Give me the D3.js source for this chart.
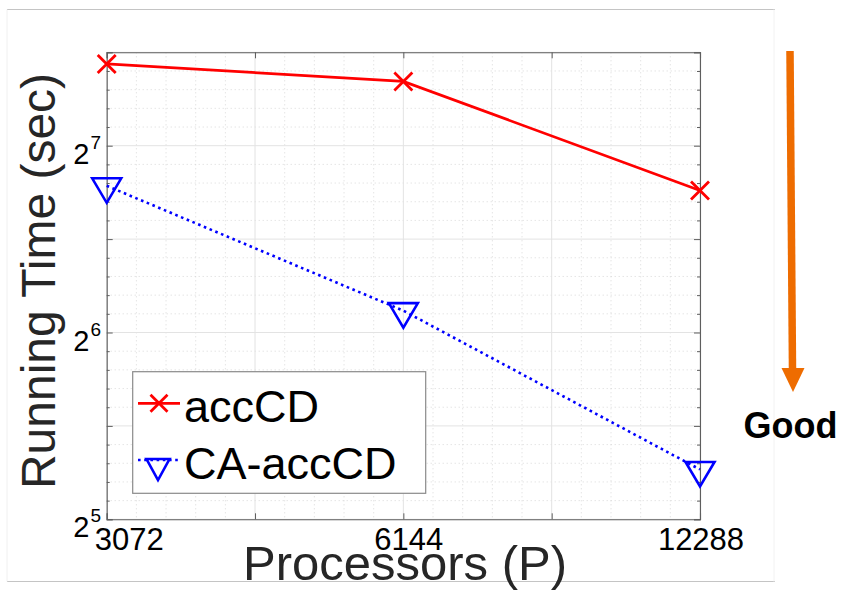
<!DOCTYPE html>
<html>
<head>
<meta charset="utf-8">
<script src="https://cdn.jsdelivr.net/npm/d3@7"></script>
<style>
  html, body { margin: 0; padding: 0; background: #fff; }
  svg { display: block; }
  text { font-family: "Liberation Sans", Arial, Helvetica, sans-serif; }
</style>
</head>
<body>
<svg id="chart" width="842" height="590"></svg>
<script>
// Running time versus processor count (log2 axes)
const processors = [3072, 6144, 12288];
const accCD = [173.4, 162.5, 108.4];
const caAccCD = [110.3, 69.4, 38.5];
const seriesNames = ["accCD", "CA-accCD"];
const xTickLabels = ["3072", "6144", "12288"];
const yTickExponents = [5, 6, 7];
const yGridExponents = [5, 5.5, 6, 6.5, 7, 7.5];
const xGridSteps = [0, 0.5, 1, 1.5, 2];   // in doublings from 3072

const svg = d3.select("#chart");

// Panel frame
svg.append("line").attr("x1", 7).attr("x2", 775).attr("y1", 9.5).attr("y2", 9.5)
  .attr("stroke", "#c4c4c4").attr("stroke-width", 1.2);
svg.append("line").attr("x1", 7).attr("x2", 775).attr("y1", 581.5).attr("y2", 581.5)
  .attr("stroke", "#c4c4c4").attr("stroke-width", 1.2);
svg.append("line").attr("x1", 7).attr("x2", 7).attr("y1", 9.5).attr("y2", 581.5)
  .attr("stroke", "#f0f0f0").attr("stroke-width", 1);
svg.append("line").attr("x1", 774).attr("x2", 774).attr("y1", 9.5).attr("y2", 581.5)
  .attr("stroke", "#f2f2f2").attr("stroke-width", 1);

const plotLeft = 106.7, plotRight = 700, plotTop = 52.3, plotBottom = 519.3;

const x = d3.scaleLog().base(2).domain([3072, 12288]).range([plotLeft, plotRight]);
const y = d3.scaleLog().base(2).domain([32, Math.pow(2, 7.5)]).range([plotBottom, plotTop]);

const grid = svg.append("g");

// Minor grid (dotted), five divisions per major interval
const xMinor = [];
for (let i = 0; i < xGridSteps.length - 1; i++) {
  for (let k = 1; k < 5; k++) xMinor.push(3072 * Math.pow(2, xGridSteps[i] + k * 0.1));
}
const yMinor = [];
for (let i = 0; i < yGridExponents.length - 1; i++) {
  for (let k = 1; k < 5; k++) yMinor.push(Math.pow(2, yGridExponents[i] + k * 0.1));
}
grid.selectAll(".xminor").data(xMinor).join("line")
  .attr("x1", d => x(d)).attr("x2", d => x(d)).attr("y1", plotTop).attr("y2", plotBottom)
  .attr("stroke", "#cfcfcf").attr("stroke-width", 0.8).attr("stroke-dasharray", "1,3");
grid.selectAll(".yminor").data(yMinor).join("line")
  .attr("x1", plotLeft).attr("x2", plotRight).attr("y1", d => y(d)).attr("y2", d => y(d))
  .attr("stroke", "#cfcfcf").attr("stroke-width", 0.8).attr("stroke-dasharray", "1,3");

// Major grid (solid)
const xMajor = xGridSteps.map(s => 3072 * Math.pow(2, s));
const yMajor = yGridExponents.map(e => Math.pow(2, e));
grid.selectAll(".xmajor").data(xMajor).join("line")
  .attr("x1", d => x(d)).attr("x2", d => x(d)).attr("y1", plotTop).attr("y2", plotBottom)
  .attr("stroke", "#e3e3e3").attr("stroke-width", 1);
grid.selectAll(".ymajor").data(yMajor).join("line")
  .attr("x1", plotLeft).attr("x2", plotRight).attr("y1", d => y(d)).attr("y2", d => y(d))
  .attr("stroke", "#e3e3e3").attr("stroke-width", 1);

// Axes box with inward ticks
const axisColor = "#5e5e5e";
const axB = svg.append("g").attr("transform", `translate(0,${plotBottom})`)
  .call(d3.axisBottom(x).tickValues(xMajor).tickSize(-6).tickFormat(""));
const axT = svg.append("g").attr("transform", `translate(0,${plotTop})`)
  .call(d3.axisTop(x).tickValues(xMajor).tickSize(-6).tickFormat(""));
const axL = svg.append("g").attr("transform", `translate(${plotLeft},0)`)
  .call(d3.axisLeft(y).tickValues(yMajor).tickSize(-6).tickFormat(""));
const axR = svg.append("g").attr("transform", `translate(${plotRight},0)`)
  .call(d3.axisRight(y).tickValues(yMajor).tickSize(-6).tickFormat(""));
const axLm = svg.append("g").attr("transform", `translate(${plotLeft},0)`)
  .call(d3.axisLeft(y).tickValues(yMinor).tickSize(-3).tickFormat(""));
const axRm = svg.append("g").attr("transform", `translate(${plotRight},0)`)
  .call(d3.axisRight(y).tickValues(yMinor).tickSize(-3).tickFormat(""));
[axB, axT, axL, axR, axLm, axRm].forEach(g => {
  g.selectAll(".domain").attr("stroke", axisColor).attr("stroke-width", 1.1);
  g.selectAll(".tick line").attr("stroke", axisColor).attr("stroke-width", 1);
});
[axLm, axRm].forEach(g => g.select(".domain").remove());

// Y tick labels: powers of two
const yLab = svg.append("g");
yTickExponents.forEach(e => {
  const t = yLab.append("text")
    .attr("x", 101).attr("y", y(Math.pow(2, e)) + 18)
    .attr("text-anchor", "end").attr("fill", "#000");
  t.append("tspan").attr("font-size", 29).text("2");
  t.append("tspan").attr("font-size", 19).attr("dy", -15).attr("dx", 1).text(String(e));
});

// X tick labels
const xLabelShift = [22.5, 5.5, 1];
svg.append("g").selectAll("text").data(processors).join("text")
  .attr("x", (d, i) => x(d) + xLabelShift[i]).attr("y", 550)
  .attr("text-anchor", "middle").attr("font-size", 31).attr("fill", "#000")
  .text((d, i) => xTickLabels[i]);

// Axis titles
svg.append("text").attr("x", 405).attr("y", 580)
  .attr("text-anchor", "middle").attr("font-size", 49).attr("fill", "#262626")
  .text("Processors (P)");
svg.append("text").attr("transform", "translate(55,281) rotate(-90)")
  .attr("text-anchor", "middle").attr("font-size", 48).attr("fill", "#262626")
  .text("Running Time (sec)");

// Series lines
const red = "#ff0000", blue = "#0000ff";
const line = d3.line().x(d => x(d[0])).y(d => y(d[1]));
svg.append("path").datum(processors.map((p, i) => [p, accCD[i]]))
  .attr("d", line).attr("fill", "none").attr("stroke", red).attr("stroke-width", 2.8);
svg.append("path").datum(processors.map((p, i) => [p, caAccCD[i]]))
  .attr("d", line).attr("fill", "none").attr("stroke", blue).attr("stroke-width", 2.6)
  .attr("stroke-dasharray", "2.6,3.6");

// Markers
function crossPath(cx, cy, r) {
  return `M${cx - r},${cy - r}L${cx + r},${cy + r}M${cx - r},${cy + r}L${cx + r},${cy - r}`;
}
function triPath(cx, cy, w, up, down) {
  return `M${cx - w},${cy - up}L${cx + w},${cy - up}L${cx},${cy + down}Z`;
}
svg.append("g").selectAll("path").data(processors).join("path")
  .attr("d", (d, i) => crossPath(x(d), y(accCD[i]), 9))
  .attr("stroke", red).attr("stroke-width", 2.8).attr("fill", "none");
svg.append("g").selectAll("path").data(processors).join("path")
  .attr("d", (d, i) => triPath(x(d), y(caAccCD[i]), 14.5, 7.5, 17))
  .attr("stroke", blue).attr("stroke-width", 2.6).attr("fill", "none")
  .attr("stroke-linejoin", "miter");

// Legend
const lg = svg.append("g");
lg.append("rect").attr("x", 132.7).attr("y", 371.7).attr("width", 293).attr("height", 121.6)
  .attr("fill", "#fff").attr("stroke", "#8a8a8a").attr("stroke-width", 1.2);
lg.append("line").attr("x1", 138).attr("x2", 180).attr("y1", 403.3).attr("y2", 403.3)
  .attr("stroke", red).attr("stroke-width", 2.8);
lg.append("path").attr("d", crossPath(159, 403.3, 8.5))
  .attr("stroke", red).attr("stroke-width", 2.8).attr("fill", "none");
lg.append("line").attr("x1", 138).attr("x2", 180).attr("y1", 460).attr("y2", 460)
  .attr("stroke", blue).attr("stroke-width", 2.6).attr("stroke-dasharray", "2.6,3.6");
lg.append("path").attr("d", triPath(158, 459, 11.5, 0, 21))
  .attr("stroke", blue).attr("stroke-width", 2.6).attr("fill", "none");
lg.selectAll("text.leg").data(seriesNames).join("text")
  .attr("x", 184).attr("y", (d, i) => 421.5 + i * 57)
  .attr("font-size", 45).attr("fill", "#000").text(d => d);

// "Good" direction arrow
const orange = "#ee6c00";
svg.append("line").attr("x1", 790).attr("y1", 51).attr("x2", 792.5).attr("y2", 370)
  .attr("stroke", orange).attr("stroke-width", 7.5);
svg.append("path").attr("d", "M781.5,368L804.5,368L793,392Z").attr("fill", orange);
svg.append("text").attr("x", 790.5).attr("y", 438).attr("text-anchor", "middle")
  .attr("font-size", 36).attr("font-weight", "bold").attr("fill", "#000").text("Good");
</script>
</body>
</html>
